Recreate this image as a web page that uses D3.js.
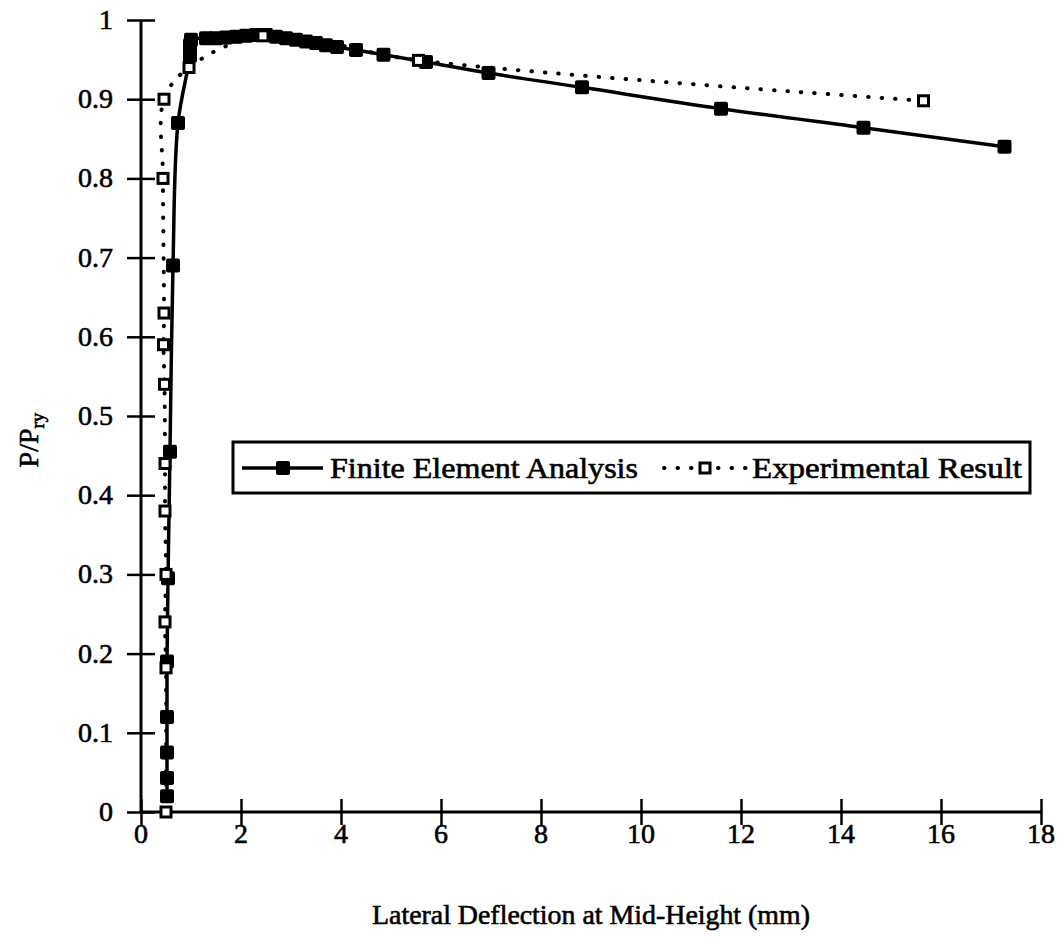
<!DOCTYPE html>
<html>
<head>
<meta charset="utf-8">
<script src="https://cdn.jsdelivr.net/npm/d3@7"></script>
<style>
  body { margin: 0; background: #fff; }
  text { font-family: "Liberation Serif", "DejaVu Serif", serif; fill: #000; stroke: #000; stroke-width: 0.6; }
</style>
</head>
<body>
<div id="chart"></div>
<script>
// Finite element analysis (filled squares)
var feX = [0.52, 0.52, 0.52, 0.52, 0.52, 0.54, 0.58, 0.64, 0.74, 0.98, 0.98, 1.0, 1.3, 1.5, 1.7, 1.9, 2.1, 2.3, 2.5,
           2.7, 2.9, 3.1, 3.3, 3.5, 3.7, 3.92, 4.3, 4.85, 5.7, 6.95, 8.82, 11.6, 14.45, 17.27];
var feY = [0.02, 0.043, 0.075, 0.12, 0.19, 0.295, 0.455, 0.69, 0.87, 0.955, 0.968, 0.975, 0.977, 0.977, 0.978, 0.979, 0.98, 0.981, 0.981,
           0.979, 0.977, 0.975, 0.973, 0.971, 0.968, 0.966, 0.962, 0.956, 0.947, 0.933, 0.915, 0.888, 0.864, 0.840];

// Experimental result (open squares)
var expX = [0.5, 0.5, 0.48, 0.5, 0.48, 0.48, 0.47, 0.45, 0.46, 0.44, 0.46, 0.96, 2.44, 5.55, 15.65];
var expY = [0, 0.182, 0.24, 0.30, 0.38, 0.44, 0.54, 0.59, 0.63, 0.80, 0.90, 0.94, 0.98, 0.949, 0.898];

var xTicks = [0, 2, 4, 6, 8, 10, 12, 14, 16, 18];
var yTicks = [0, 0.1, 0.2, 0.3, 0.4, 0.5, 0.6, 0.7, 0.8, 0.9, 1];

var width = 1064, height = 944;
var svg = d3.select("#chart").append("svg")
  .attr("width", width)
  .attr("height", height);

var x = d3.scaleLinear().domain([0, 18]).range([141, 1041]);
var y = d3.scaleLinear().domain([0, 1]).range([812, 20]);

var fe = feX.map(function(d, i) { return [d, feY[i]]; });
var ex = expX.map(function(d, i) { return [d, expY[i]]; });

// axes with ticks crossing the line
var xAxis = svg.append("g")
  .attr("transform", "translate(0," + y(0) + ")")
  .call(d3.axisBottom(x).tickValues(xTicks).tickSize(0).tickFormat(""));
xAxis.select(".domain").attr("stroke-width", 3).attr("d", "M" + x(0) + ",0H" + x(18));
xAxis.selectAll(".tick").append("line")
  .attr("y1", -13).attr("y2", 13)
  .attr("stroke", "#000").attr("stroke-width", 2.5);

var yAxis = svg.append("g")
  .attr("transform", "translate(" + x(0) + ",0)")
  .call(d3.axisLeft(y).tickValues(yTicks).tickSize(0).tickFormat(""));
yAxis.select(".domain").attr("stroke-width", 3).attr("d", "M0," + y(0) + "V" + y(1));
yAxis.selectAll(".tick").append("line")
  .attr("x1", -14).attr("x2", 14)
  .attr("stroke", "#000").attr("stroke-width", 2.5);

svg.selectAll(".xlab")
  .data(xTicks)
  .enter()
  .append("text")
  .attr("x", function(d) { return x(d); })
  .attr("y", 843)
  .attr("text-anchor", "middle")
  .attr("font-size", 28)
  .text(function(d) { return d; });

svg.selectAll(".ylab")
  .data(yTicks)
  .enter()
  .append("text")
  .attr("x", 113)
  .attr("y", function(d) { return y(d) + 9; })
  .attr("text-anchor", "end")
  .attr("font-size", 28)
  .text(function(d) { return d; });

svg.append("text")
  .attr("x", 591)
  .attr("y", 924)
  .attr("text-anchor", "middle")
  .attr("font-size", 28)
  .attr("textLength", 438)
  .attr("lengthAdjust", "spacingAndGlyphs")
  .text("Lateral Deflection at Mid-Height (mm)");

var yt = svg.append("text")
  .attr("transform", "translate(38,440) rotate(-90)")
  .attr("text-anchor", "middle")
  .attr("font-size", 28);
yt.append("tspan").text("P/P");
yt.append("tspan").attr("font-size", 19).attr("dy", 6).text("ry");

// lines
var line = d3.line()
  .x(function(d) { return x(d[0]); })
  .y(function(d) { return y(d[1]); })
  .curve(d3.curveCatmullRom.alpha(0.5));

svg.append("path")
  .datum(ex)
  .attr("d", line)
  .attr("fill", "none")
  .attr("stroke", "#000")
  .attr("stroke-width", 4)
  .attr("stroke-linecap", "round")
  .attr("stroke-dasharray", "0.5,13");

svg.append("path")
  .datum(fe)
  .attr("d", line)
  .attr("fill", "none")
  .attr("stroke", "#000")
  .attr("stroke-width", 3.5);

svg.selectAll(".fe")
  .data(fe)
  .enter()
  .append("rect")
  .attr("x", function(d) { return x(d[0]) - 7; })
  .attr("y", function(d) { return y(d[1]) - 7; })
  .attr("width", 14)
  .attr("height", 14)
  .attr("rx", 2)
  .attr("fill", "#000");

svg.selectAll(".ex")
  .data(ex)
  .enter()
  .append("rect")
  .attr("x", function(d) { return x(d[0]) - 5; })
  .attr("y", function(d) { return y(d[1]) - 5; })
  .attr("width", 10)
  .attr("height", 10)
  .attr("fill", "#fff")
  .attr("stroke", "#000")
  .attr("stroke-width", 3);

// legend
var lg = svg.append("g");
lg.append("rect")
  .attr("x", 233).attr("y", 442)
  .attr("width", 797).attr("height", 51)
  .attr("fill", "#fff")
  .attr("stroke", "#000")
  .attr("stroke-width", 3);
lg.append("line")
  .attr("x1", 242).attr("x2", 323).attr("y1", 468).attr("y2", 468)
  .attr("stroke", "#000").attr("stroke-width", 3.5);
lg.append("rect")
  .attr("x", 276).attr("y", 461).attr("width", 14).attr("height", 14).attr("rx", 2)
  .attr("fill", "#000");
lg.append("text")
  .attr("x", 330).attr("y", 478)
  .attr("font-size", 29)
  .attr("textLength", 308)
  .attr("lengthAdjust", "spacingAndGlyphs")
  .text("Finite Element Analysis");
lg.append("line")
  .attr("x1", 664).attr("x2", 746).attr("y1", 468).attr("y2", 468)
  .attr("stroke", "#000").attr("stroke-width", 4)
  .attr("stroke-linecap", "round")
  .attr("stroke-dasharray", "0.5,13");
lg.append("rect")
  .attr("x", 700).attr("y", 463).attr("width", 10).attr("height", 10)
  .attr("fill", "#fff").attr("stroke", "#000").attr("stroke-width", 3);
lg.append("text")
  .attr("x", 752).attr("y", 478)
  .attr("font-size", 29)
  .attr("textLength", 270)
  .attr("lengthAdjust", "spacingAndGlyphs")
  .text("Experimental Result");
</script>
</body>
</html>
